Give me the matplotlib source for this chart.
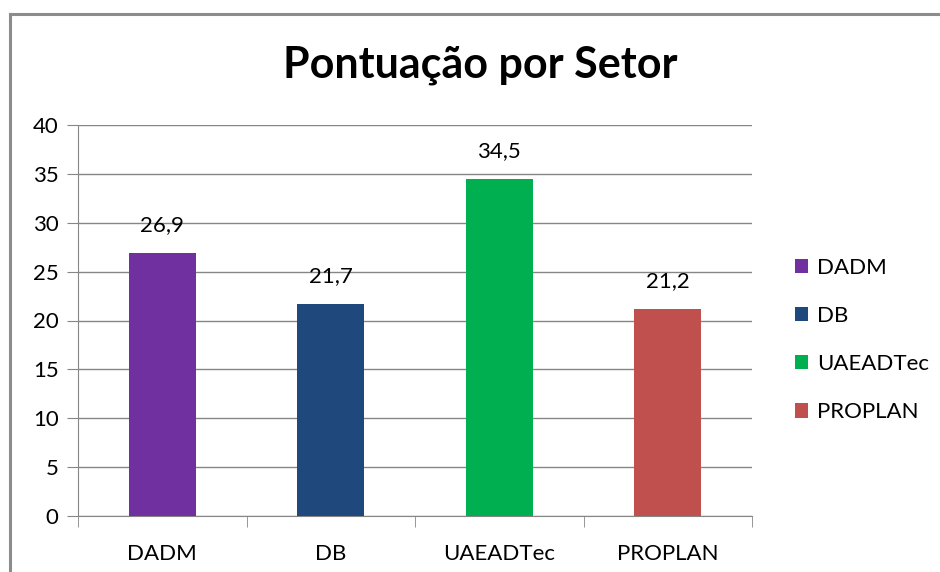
import matplotlib.pyplot as plt
from matplotlib.lines import Line2D

setores = ["DADM", "DB", "UAEADTec", "PROPLAN"]
pontuacao = [26.9, 21.7, 34.5, 21.2]
cores = ["#7030A0", "#1F497D", "#00B050", "#C0504D"]
y_ticks = [0, 5, 10, 15, 20, 25, 30, 35, 40]

plt.rcParams['font.family'] = ['Lato', 'DejaVu Sans']

fig = plt.figure(figsize=(9.4, 5.72), dpi=100)
ax = fig.add_axes([78 / 940, 1 - 516 / 572, (752 - 78) / 940, (516 - 125) / 572])

# moldura do gráfico (só topo e esquerda aparecem no recorte)
fig.add_artist(Line2D([10 / 940, 1], [1 - 14 / 572] * 2, color="#8c8c8c", lw=2.2))
fig.add_artist(Line2D([10 / 940] * 2, [0, 1 - 14 / 572], color="#8c8c8c", lw=2.2))

x = range(len(setores))
barras = ax.bar(x, pontuacao, width=0.4, color=cores, label=setores, zorder=3)
for xi, v in zip(x, pontuacao):
    ax.text(xi, v + 1.8, f"{v:.1f}".replace(".", ","), ha="center", va="bottom", fontsize=16)

ax.set_xlim(-0.5, len(setores) - 0.5)
ax.set_ylim(0, 40)
ax.set_yticks(y_ticks)
ax.set_yticklabels([str(t) for t in y_ticks], fontsize=16)
ax.yaxis.grid(True, color="#868686", lw=1, zorder=0)
ax.tick_params(axis="y", length=8, color="#868686", pad=6)

ax.set_xticks(list(x))
ax.set_xticklabels(setores, fontsize=16)
ax.tick_params(axis="x", length=0, pad=20)
ax.set_xticks([i - 0.5 for i in range(len(setores) + 1)], minor=True)
ax.tick_params(axis="x", which="minor", length=8, color="#868686")

for s in ["top", "right"]:
    ax.spines[s].set_visible(False)
ax.spines["left"].set_color("#868686")
ax.spines["bottom"].set_color("#868686")

fig.text(480 / 940, 1 - 65 / 572, "Pontuação por Setor", ha="center", va="center",
         fontsize=31, fontweight="bold")

ax.legend(barras, setores, loc="center left", bbox_to_anchor=(1.05, 0.45), frameon=False,
          fontsize=16, handlelength=0.6, handleheight=0.6, handletextpad=0.4, labelspacing=1.27,
          borderaxespad=0)

fig.savefig("out.png", dpi=100)
